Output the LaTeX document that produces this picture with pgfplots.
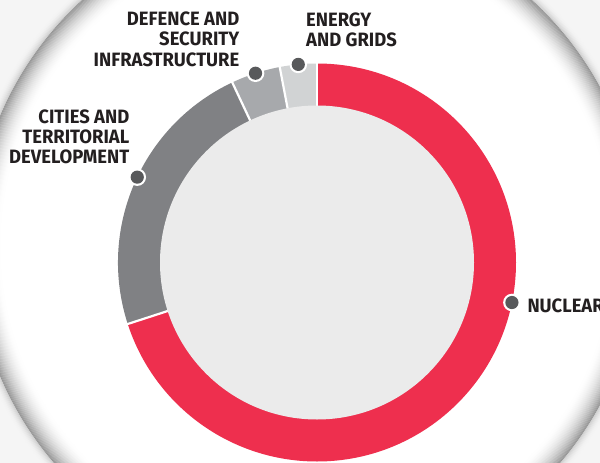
\documentclass[border=0pt]{standalone}
\usepackage{pgfplots}
\pgfplotsset{compat=1.18}
\usepackage{pgfplotstable}
\usepackage{fontspec}
\setmainfont{Fira Sans}[FakeStretch=0.955]
\definecolor{nuc}{HTML}{EE2F4E}
\definecolor{cit}{HTML}{808184}
\definecolor{def}{HTML}{A7A9AC}
\definecolor{ene}{HTML}{D1D3D4}
\definecolor{innerc}{HTML}{EBEBEB}
\definecolor{dotc}{HTML}{58595B}
\definecolor{txt}{HTML}{231F20}

\pgfplotstableread{
label value col dotang
Nuclear 70 nuc -11.6
Cities 23 cit 154.6
Defence 4 def 108
Energy 3 ene 95.4
}\shares

\begin{document}
\begin{tikzpicture}
\begin{axis}[hide axis, scale only axis, width=600pt, height=463pt,
  xmin=0, xmax=600, ymin=0, ymax=463, y dir=reverse, clip=true]
% background
\fill[black!4] (axis cs:0,0) rectangle (axis cs:600,463);
\fill[white] (axis cs:307,246) circle[radius=333pt];
% rim shading
\pgfplotsforeachungrouped \k in {0,...,27}{%
  \pgfmathsetmacro\rr{333-\k}
  \pgfmathsetmacro\tt{42*(1-\k/28)^2}
  \edef\temp{\noexpand\draw[line width=1.2pt, black!\tt] (axis cs:307,246) circle[radius=\rr pt];}
  \temp
}
\pgfplotsforeachungrouped \k in {1,...,10}{%
  \pgfmathsetmacro\rr{333+\k}
  \pgfmathsetmacro\tt{4+18*(1-\k/10)^2}
  \edef\temp{\noexpand\draw[line width=1.2pt, black!\tt] (axis cs:307,246) circle[radius=\rr pt];}
  \temp
}
% donut sectors
\pgfplotstablegetrowsof{\shares}
\pgfmathtruncatemacro\N{\pgfplotsretval-1}
\def\cum{0}
\pgfplotsforeachungrouped \i in {0,...,\N}{%
  \pgfplotstablegetelem{\i}{value}\of\shares \let\val\pgfplotsretval
  \pgfplotstablegetelem{\i}{col}\of\shares \let\col\pgfplotsretval
  \pgfmathsetmacro\sa{90-3.6*\cum}
  \pgfmathsetmacro\ea{90-3.6*(\cum+\val)}
  \pgfmathsetmacro\cum{\cum+\val}
  \edef\temp{\noexpand\fill[\col] (axis cs:317,262.5) -- ++(\sa:199pt) arc[start angle=\sa, end angle=\ea, radius=199pt] -- cycle;}
  \temp
}
\def\cum{0}
\pgfplotsforeachungrouped \i in {0,...,\N}{%
  \pgfplotstablegetelem{\i}{value}\of\shares \let\val\pgfplotsretval
  \pgfmathsetmacro\sa{90-3.6*\cum}
  \pgfmathsetmacro\cum{\cum+\val}
  \edef\temp{\noexpand\draw[white, line width=2.2pt] (axis cs:317,262.5) -- ++(\sa:201pt);}
  \temp
}
\fill[innerc] (axis cs:317,262.5) circle[radius=157pt];
% dots
\pgfplotsforeachungrouped \i in {0,...,\N}{%
  \pgfplotstablegetelem{\i}{dotang}\of\shares \let\ang\pgfplotsretval
  \edef\temp{\noexpand\fill[white] (axis cs:317,262.5) ++(\ang:199pt) circle[radius=8.8pt];
    \noexpand\fill[dotc] (axis cs:317,262.5) ++(\ang:199pt) circle[radius=6.6pt];}
  \temp
}
% labels
\tikzset{lab/.style={inner sep=0pt, text=txt, font=\bfseries\fontsize{19.3}{20}\selectfont}}
\node[lab, anchor=base east] at (axis cs:239.5,25) {DEFENCE AND};
\node[lab, anchor=base east] at (axis cs:239.5,45.8) {SECURITY};
\node[lab, anchor=base east] at (axis cs:239.5,66.6) {INFRASTRUCTURE};
\node[lab, anchor=base west] at (axis cs:306,26) {ENERGY};
\node[lab, anchor=base west] at (axis cs:306,46) {AND GRIDS};
\node[lab, anchor=base east] at (axis cs:129.5,123.3) {CITIES AND};
\node[lab, anchor=base east] at (axis cs:129.5,143.3) {TERRITORIAL};
\node[lab, anchor=base east] at (axis cs:129.5,163.3) {DEVELOPMENT};
\node[lab, anchor=base west] at (axis cs:527.3,312.3) {NUCLEAR};
\end{axis}
\pgfresetboundingbox
\useasboundingbox (current axis.south west) rectangle (current axis.north east);
\end{tikzpicture}
\end{document}
